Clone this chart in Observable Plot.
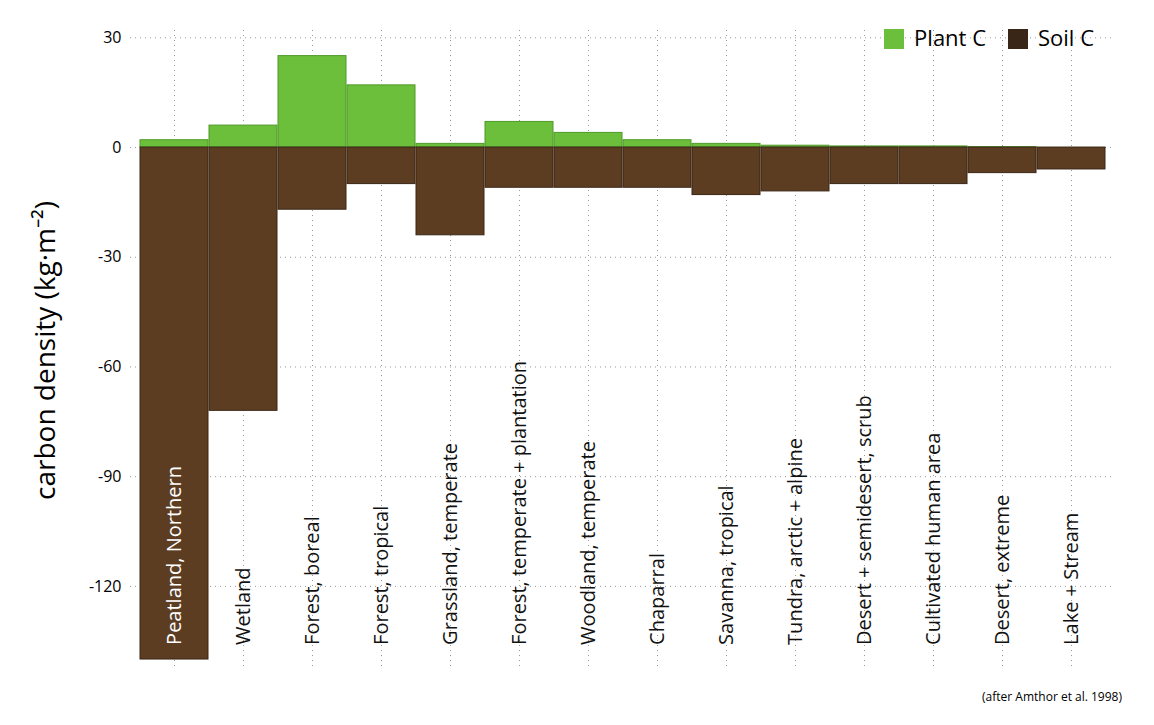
<!DOCTYPE html>
<html><head><meta charset="utf-8">
<script src="https://cdn.jsdelivr.net/npm/d3@7"></script>
<script src="https://cdn.jsdelivr.net/npm/@observablehq/plot@0.6"></script>
<style>
body{margin:0;background:#fff;font-family:"Open Sans",sans-serif;}
#wrap{position:relative;width:1154px;height:725px;}
#legend{position:absolute;right:60px;top:22px;font-size:22px;display:flex;gap:22px;align-items:center}
#legend span.sw{display:inline-block;width:20px;height:20px;margin-right:10px;vertical-align:-3px}
#cap{position:absolute;right:32px;top:688px;font-size:12px}
</style></head><body>
<div id="wrap"><div id="chart"></div>
<div id="legend"><div><span class="sw" style="background:#6cbf3a"></span>Plant C</div><div><span class="sw" style="background:#3a2616"></span>Soil C</div></div>
<div id="cap">(after Amthor et al. 1998)</div></div>
<script>
const categories = ["Peatland, Northern","Wetland","Forest, boreal","Forest, tropical","Grassland, temperate","Forest, temperate + plantation","Woodland, temperate","Chaparral","Savanna, tropical","Tundra, arctic + alpine","Desert + semidesert, scrub","Cultivated human area","Desert, extreme","Lake + Stream"];
const plantC = [2,6,25,17,1,7,4,2,1,0.5,0.3,0.3,0.1,0];
const soilC = [-140,-72,-17,-10,-24,-11,-11,-11,-13,-12,-10,-10,-7,-6];
const yTicks = [30,0,-30,-60,-90,-120];
const rows = categories.map((c,i)=>({c, plant:plantC[i], soil:soilC[i]}));
const chart = Plot.plot({
  width:1154, height:685,
  marginLeft:130, marginRight:40, marginTop:30, marginBottom:15,
  style:{fontSize:"16px", fontFamily:"Open Sans, sans-serif"},
  x:{domain:categories, axis:null, paddingInner:0.02, paddingOuter:0.05},
  y:{domain:[-143,32]},
  marks:[
    Plot.gridX(categories,{x:d=>d, stroke:"#999", strokeDasharray:"1,4", strokeOpacity:1}),
    Plot.gridY(yTicks,{stroke:"#999", strokeDasharray:"1,4", strokeOpacity:1}),
    Plot.barY(rows,{x:"c", y:"plant", fill:"#6cbf3a", stroke:"#4f9a28"}),
    Plot.barY(rows,{x:"c", y:"soil", fill:"#5c3d22", stroke:"#3a2616"}),
    Plot.text(rows,{x:"c", y:-136, text:"c", rotate:-90, textAnchor:"start", fontSize:20, fill:(d,i)=>i===0?"white":"#111"}),
    Plot.axisY({ticks:yTicks, tickFormat:d=>String(d), tickSize:0, fontSize:16, label:"carbon density (kg·m⁻²)", labelAnchor:"center", labelArrow:"none", labelOffset:95})
  ]
});
d3.select(chart).selectAll("[aria-label='y-axis label'] text").style("font-size","28px");
document.getElementById("chart").append(chart);
</script></body></html>
